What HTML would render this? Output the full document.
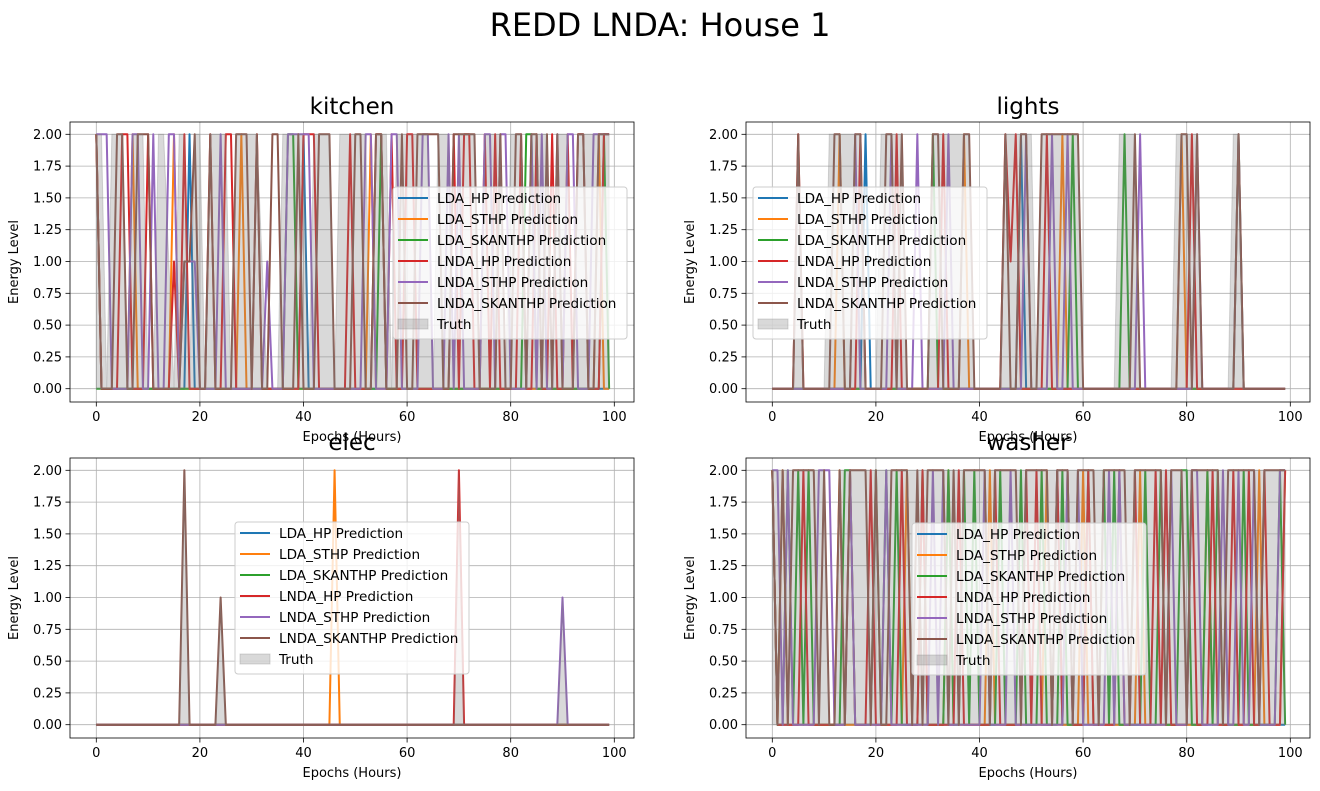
<!DOCTYPE html>
<html><head><meta charset="utf-8"><style>
body{margin:0;background:#fff}
svg{display:block;font-family:"DejaVu Sans","Liberation Sans",sans-serif}
</style></head><body>
<svg id="fig" width="1320" height="791" viewBox="0 0 1320 791">
<text x="660" y="36" font-size="32" text-anchor="middle" fill="#000">REDD LNDA: House 1</text>
</svg>
<script>
const xTicks = [0, 20, 40, 60, 80, 100];
const yTicks = [0, 0.25, 0.5, 0.75, 1.0, 1.25, 1.5, 1.75, 2.0];
const seriesNames = ["LDA_HP Prediction","LDA_STHP Prediction","LDA_SKANTHP Prediction","LNDA_HP Prediction","LNDA_STHP Prediction","LNDA_SKANTHP Prediction"];
const seriesColors = ["#1f77b4","#ff7f0e","#2ca02c","#d62728","#9467bd","#8c564b"];

const kitchenTruth  = "2202220222 0022102202 2022220222 2210002222 2022220222 2220222022 2222202220 2222022220 2220222202 2202222222";
const kitchenBlue   = "2000000000 0000000020 0000000000 0000000000 2000000000 0000000000 0000000000 0000000000 0000000000 0000000000";
const kitchenOrange = "2000000200 0000020000 0000000020 0000000000 0000000000 0002000000 0000000000 0000000000 0000000000 0000000200";
const kitchenGreen  = "0000000000 0000000000 0000000000 0000000220 0000000000 0000020000 0000000000 0000000000 0002200000 0000000020";
const kitchenRed    = "2000022000 2000010200 0020022000 0200000000 2220000002 0000220200 2200000002 0220020200 0020020020 0202200022";
const kitchenPurple = "2220000220 0200220111 0000200000 0001000222 2200000000 0022000220 0002200020 2000022022 0000202002 0220002222";
const kitchenBrown  = "2000220022 2000000112 0020000222 0200220002 0002220000 2200220002 0022222002 2222000020 0220220202 0002200222";

const lightsTruth  = "0000020000 0222222200 0222220000 0222222220 0000022222 2022222222 0000000222 2000000022 2220000002 2000000000";
const lightsBlue   = "0000000000 0000000020 0000000000 0000000000 0000000020 0000000000 0000000000 0000000000 0000000000 0000000000";
const lightsOrange = "0000000000 0002000000 0000000000 0000000200 0000000000 0000002000 0000000000 0000000002 0000000000 0000000000";
const lightsGreen  = "0000000000 0000000000 0000000000 0200000000 0000000000 0000000020 0000000020 0000000000 0000000000 2000000000";
const lightsRed    = "0000020000 0000000200 0000200000 0002000000 0000021200 0002000000 0000000000 0000000000 0200000000 0000000000";
const lightsPurple = "0000000000 0000002000 0002000020 0000200000 0000000002 0000200200 0000000000 0200000000 0020000000 2000000000";
const lightsBrown  = "0000020000 0022002200 0022020000 0220000220 0000020022 0022222222 0000000000 2000000002 2020000000 2000000000";

const elecTruth  = "0000000000 0000000200 0000100000 0000000000 0000000000 0000000000 0000000000 2000000000 0000000000 1000000000";
const elecBlue   = "0000000000 0000000000 0000000000 0000000000 0000000000 0000000000 0000000000 0000000000 0000000000 0000000000";
const elecOrange = "0000000000 0000000000 0000000000 0000000000 0000002000 0000000000 0000000000 0000000000 0000000000 0000000000";
const elecGreen  = "0000000000 0000000000 0000000000 0000000000 0000000000 0000000000 0000000000 0000000000 0000000000 0000000000";
const elecRed    = "0000000000 0000000000 0000000000 0000000000 0000000000 0000000000 0000000000 2000000000 0000000000 0000000000";
const elecPurple = "0000000000 0000000000 0000000000 0000000000 0000000000 0000000000 0000000000 0000000000 0000000000 1000000000";
const elecBrown  = "0000000000 0000000200 0000100000 0000000000 0000000000 0000000000 0000000000 0000000000 0000000000 0000000000";

const washerTruth  = "2222222222 2002222222 2222222222 2222222222 2222222222 2222222222 2222222222 2222222222 2222222222 2222222222";
const washerBlue   = "2000000000 0000000000 0000000000 0000000000 0000000000 0000020000 0000000000 0000000000 0000000000 0000000000";
const washerOrange = "2020000000 0002000000 0000002000 0000200000 0020000000 0002000000 2000000000 0200000000 0000200000 0000200002";
const washerGreen  = "2002020200 0000220000 2020200002 0000200202 0000200020 0020002000 0200202000 0020020002 2000202000 0200000020";
const washerRed    = "2000002000 0000020002 0000020002 0000002000 0002000002 0200020200 0200000200 2000202000 0200020002 0020020002";
const washerPurple = "2202000002 2200020000 0020000000 0202000000 0200002000 0000000202 0000020200 0000000200 0220000200 2002000022";
const washerBrown  = "2020222220 2002022220 2002222020 2222020222 2202222202 2222022202 2220222220 2222220222 0222222022 2222022222";

function toVals(s){ return s.replace(/\s+/g,'').slice(0,100).padEnd(100,'0').split('').map(Number); }

const NS = "http://www.w3.org/2000/svg";
const fig = document.getElementById('fig');
function mk(tag, attrs, parent){
  const e = document.createElementNS(NS, tag);
  for (const k in attrs) e.setAttribute(k, attrs[k]);
  (parent||fig).appendChild(e);
  return e;
}

const panels = [
  {name:"kitchen", left:70, top:122, legX:393, legY:187, truth:kitchenTruth, series:[kitchenBlue,kitchenOrange,kitchenGreen,kitchenRed,kitchenPurple,kitchenBrown]},
  {name:"lights", left:746, top:122, legX:753, legY:187, truth:lightsTruth, series:[lightsBlue,lightsOrange,lightsGreen,lightsRed,lightsPurple,lightsBrown]},
  {name:"elec", left:70, top:458, legX:235, legY:522, truth:elecTruth, series:[elecBlue,elecOrange,elecGreen,elecRed,elecPurple,elecBrown]},
  {name:"washer", left:746, top:458, legX:912, legY:523, truth:washerTruth, series:[washerBlue,washerOrange,washerGreen,washerRed,washerPurple,washerBrown]}
];

panels.forEach(p => {
  const W = 564, H = 280;
  const xs = v => p.left + 26.3 + v * 5.18;
  const ys = v => p.top + 266.7 - v * 127.2;
  const g = mk('g', {});
  
  
  xTicks.forEach(t => {
    const l = mk('line', {x1:xs(t), x2:xs(t), y1:p.top, y2:p.top+H, stroke:'#b0b0b0', 'stroke-width':0.8}, g);
    
    
    mk('line', {x1:xs(t), x2:xs(t), y1:p.top+H, y2:p.top+H+4.5, stroke:'#000', 'stroke-width':0.8}, g);
    const tx = mk('text', {x:xs(t), y:p.top+H+19, 'font-size':13, 'text-anchor':'middle'}, g);
    tx.textContent = t;
    
    
  });
  yTicks.forEach(t => {
    const l = mk('line', {x1:p.left, x2:p.left+W, y1:ys(t), y2:ys(t), stroke:'#b0b0b0', 'stroke-width':0.8}, g);
    
    
    mk('line', {x1:p.left-4.5, x2:p.left, y1:ys(t), y2:ys(t), stroke:'#000', 'stroke-width':0.8}, g);
    const tx = mk('text', {x:p.left-8, y:ys(t)+4.5, 'font-size':13, 'text-anchor':'end'}, g);
    tx.textContent = t.toFixed(2);
    
    
  });
  p.series.forEach((s, i) => {
    const vals = toVals(s);
    const pl = mk('polyline', {points: vals.map((v,k)=>xs(k)+','+ys(v)).join(' '), fill:'none', stroke:seriesColors[i], 'stroke-width':2, 'stroke-linejoin':'round'}, g);
    
    
  });
  const tv = toVals(p.truth);
  let pts = tv.map((v,k)=>xs(k)+','+ys(v)).join(' ');
  pts += ' ' + xs(99) + ',' + ys(0) + ' ' + xs(0) + ',' + ys(0);
  const tf = mk('polygon', {points:pts, fill:'#808080', 'fill-opacity':0.3, stroke:'#808080', 'stroke-opacity':0.3, 'stroke-width':1}, g);
  
  
  mk('rect', {x:p.left, y:p.top, width:W, height:H, fill:'none', stroke:'#000', 'stroke-width':0.8}, g);
  const tt = mk('text', {x:p.left+W/2, y:p.top-8, 'font-size':23, 'text-anchor':'middle'}, g);
  tt.textContent = p.name;
  
  
  const xl = mk('text', {x:p.left+W/2, y:p.top+H+39, 'font-size':13, 'text-anchor':'middle'}, g);
  xl.textContent = 'Epochs (Hours)';
  
  
  const yl = mk('text', {x:0, y:0, 'font-size':13, 'text-anchor':'middle', transform:'translate('+(p.left-52)+','+(p.top+H/2)+') rotate(-90)'}, g);
  yl.textContent = 'Energy Level';
  
  
  const lg = mk('g', {}, g);
  
  
  mk('rect', {x:p.legX, y:p.legY, width:234, height:152, rx:3, fill:'#fff', 'fill-opacity':0.8, stroke:'#cccccc', 'stroke-width':1}, lg);
  const labels = seriesNames.concat(['Truth']);
  labels.forEach((lab, i) => {
    const cy = p.legY + 11 + i*21;
    if (i < 6) {
      mk('line', {x1:p.legX+5, x2:p.legX+35, y1:cy, y2:cy, stroke:seriesColors[i], 'stroke-width':2}, lg);
    } else {
      mk('rect', {x:p.legX+5, y:cy-5, width:30, height:10, fill:'#808080', 'fill-opacity':0.3, stroke:'#808080', 'stroke-opacity':0.3}, lg);
    }
    const t = mk('text', {x:p.legX+44, y:cy+5, 'font-size':13.6}, lg);
    t.textContent = lab;
    
    
  });
});
</script>
</body></html>
